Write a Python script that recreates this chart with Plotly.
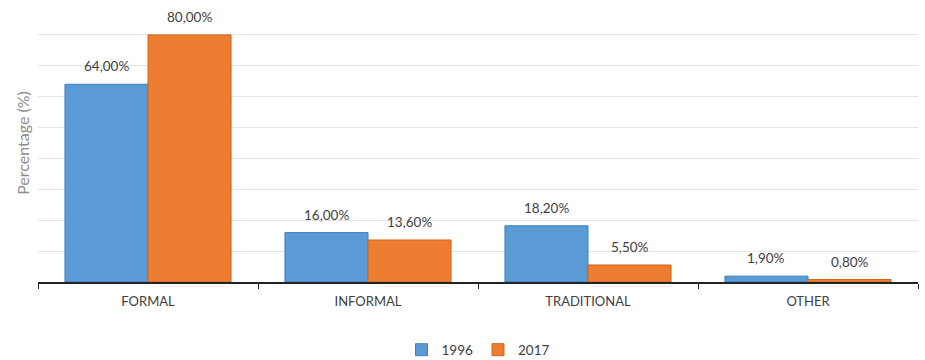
import plotly.graph_objects as go

categories = ["FORMAL", "INFORMAL", "TRADITIONAL", "OTHER"]
values_1996 = [64.0, 16.0, 18.2, 1.9]
values_2017 = [80.0, 13.6, 5.5, 0.8]
series_names = ["1996", "2017"]

PLOT_W = 925 - 38 - 7
BARGAP = 0.245
BAR_PX = PLOT_W / len(categories) * (1 - BARGAP) / 2


def fmt(v):
    return f"{v:.2f}".replace(".", ",") + "%"


fig = go.Figure()
for j, (name, vals, fill, edge) in enumerate([
    (series_names[0], values_1996, "#5B9BD5", "#3F7FC0"),
    (series_names[1], values_2017, "#ED7D31", "#D0641C"),
]):
    fig.add_trace(go.Bar(
        x=categories, y=vals, name=name,
        marker=dict(color=fill, line=dict(color=edge, width=1)),
    ))
    # value labels sit a little above each bar
    for cat, v in zip(categories, vals):
        fig.add_annotation(
            x=cat, y=v, text=fmt(v), showarrow=False,
            xshift=(j - 0.5) * BAR_PX, yshift=8, yanchor="bottom",
            font=dict(size=13.5, color="#404040"),
        )

fig.update_layout(
    width=925, height=360,
    margin=dict(l=38, r=7, t=4, b=78),
    paper_bgcolor="white", plot_bgcolor="white",
    barmode="group", bargap=BARGAP, bargroupgap=0,
    font=dict(family="Lato, Open Sans, sans-serif", size=13, color="#404040"),
    showlegend=True,
    legend=dict(orientation="h", x=0.5, xanchor="center",
                yref="container", y=0.028, yanchor="middle",
                font=dict(size=13.5, color="#404040"), itemwidth=30,
                traceorder="normal"),
)
fig.update_xaxes(
    showline=True, linecolor="#222222", linewidth=2,
    ticks="outside", tickson="boundaries", ticklen=5, tickcolor="#222222",
    tickfont=dict(size=13, color="#404040"), ticklabelstandoff=6,
)
fig.update_yaxes(
    range=[0, 90], dtick=10, showticklabels=False,
    showgrid=True, gridcolor="#E4E4E4", gridwidth=1, zeroline=False,
    title=dict(text="Percentage (%)", font=dict(size=16, color="#8C8C8C"), standoff=3),
)

fig.write_html("out.html")
